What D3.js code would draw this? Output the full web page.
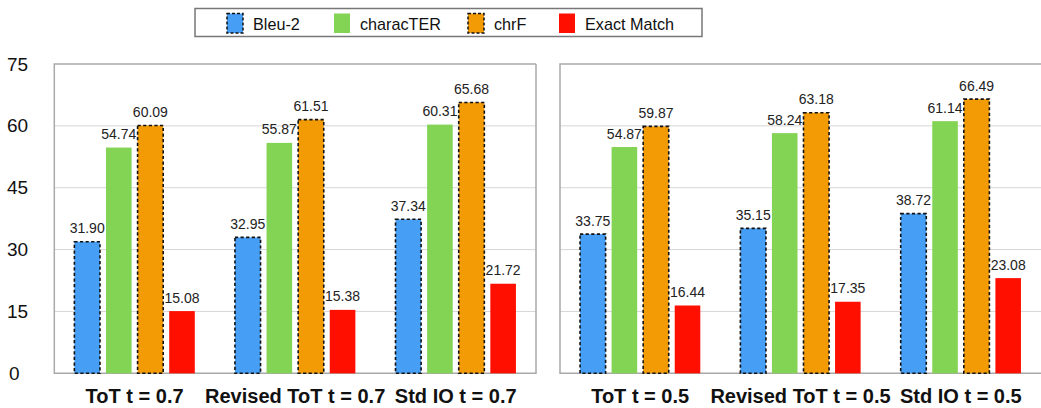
<!DOCTYPE html>
<html>
<head>
<meta charset="utf-8">
<script src="https://cdn.jsdelivr.net/npm/d3@7"></script>
<style>
  body { margin: 0; background: #fff; }
  svg { display: block; font-family: "Liberation Sans", Arial, sans-serif; }
</style>
</head>
<body>
<svg id="chart" width="1041" height="408"></svg>
<script>
// series and their look
var series = ['Bleu-2', 'characTER', 'chrF', 'Exact Match'];
var colors = ['#469ef5', '#83d455', '#f29b05', '#ff0f00'];
var dashed = [true, false, true, false];

// two panels, three settings each
var groupsLeft = ['ToT t = 0.7', 'Revised ToT t = 0.7', 'Std IO t = 0.7'];
var groupsRight = ['ToT t = 0.5', 'Revised ToT t = 0.5', 'Std IO t = 0.5'];

var bleu2Left = [31.90, 32.95, 37.34];
var characterLeft = [54.74, 55.87, 60.31];
var chrfLeft = [60.09, 61.51, 65.68];
var exactLeft = [15.08, 15.38, 21.72];

var bleu2Right = [33.75, 35.15, 38.72];
var characterRight = [54.87, 58.24, 61.14];
var chrfRight = [59.87, 63.18, 66.49];
var exactRight = [16.44, 17.35, 23.08];

var yTicks = [0, 15, 30, 45, 60, 75];

var svg = d3.select('#chart');

var plotTop = 64, plotBottom = 373.3;
var y = d3.scaleLinear().domain([0, 75]).range([plotBottom, plotTop]);

var panels = [
	{ x: 54.3, w: 481.7, groups: groupsLeft, values: [bleu2Left, characterLeft, chrfLeft, exactLeft], rightBorder: true },
	{ x: 560, w: 481, groups: groupsRight, values: [bleu2Right, characterRight, chrfRight, exactRight], rightBorder: false }
];

// y tick labels, only on the left
svg.append('g').selectAll('text').data(yTicks)
	.enter().append('text')
		.attr('x', function(d) { return d === 0 ? 9 : 7; })
		.attr('y', function(d) { return y(d) + 6.5; })
		.attr('font-size', 19)
		.attr('fill', '#111')
		.text(function(d) { return d; });

panels.forEach(function(p) {
	var g = svg.append('g').attr('transform', 'translate(' + p.x + ',0)');

	// gridlines
	g.append('g').selectAll('line').data(yTicks.filter(function(d) { return d > 0 && d < 75; }))
		.enter().append('line')
			.attr('x1', 0).attr('x2', p.w)
			.attr('y1', function(d) { return y(d); })
			.attr('y2', function(d) { return y(d); })
			.attr('stroke', '#d6d6d6').attr('stroke-width', 1);

	// frame
	var frame = 'M' + p.w + ',' + plotTop + 'H0V' + plotBottom + 'H' + p.w;
	if (p.rightBorder) frame += 'V' + plotTop;
	g.append('path').attr('d', frame)
		.attr('fill', 'none').attr('stroke', '#a9a9a9').attr('stroke-width', 1.5);

	var x0 = d3.scaleBand().domain(p.groups).range([0, p.w])
		.paddingInner(0.25).paddingOuter(0.125);
	var x1 = d3.scaleBand().domain(series).range([0, x0.bandwidth()])
		.paddingInner(0.19).paddingOuter(0);

	var rows = [];
	p.groups.forEach(function(grp, gi) {
		series.forEach(function(s, si) {
			rows.push({ group: grp, s: s, si: si, v: p.values[si][gi] });
		});
	});

	var bars = g.append('g').selectAll('g').data(rows).enter().append('g')
		.attr('transform', function(d) { return 'translate(' + (x0(d.group) + x1(d.s)) + ',0)'; });

	bars.append('rect')
		.attr('x', 0)
		.attr('y', function(d) { return y(d.v); })
		.attr('width', x1.bandwidth())
		.attr('height', function(d) { return y(0) - y(d.v); })
		.attr('fill', function(d) { return colors[d.si]; })
		.attr('stroke', function(d) { return dashed[d.si] ? '#111' : 'none'; })
		.attr('stroke-width', 1.6)
		.attr('stroke-dasharray', '3.2,2.4');

	bars.append('text')
		.attr('x', x1.bandwidth() / 2)
		.attr('y', function(d) { return y(d.v) - 8.5; })
		.attr('text-anchor', 'middle')
		.attr('font-size', 14)
		.attr('fill', '#222')
		.text(function(d) { return d.v.toFixed(2); });

	// category labels
	g.append('g').selectAll('text').data(p.groups)
		.enter().append('text')
			.attr('x', function(d) { return x0(d) + x0.bandwidth() / 2; })
			.attr('y', 403)
			.attr('text-anchor', 'middle')
			.attr('font-size', 20)
			.attr('font-weight', 'bold')
			.attr('fill', '#111')
			.text(function(d) { return d; });
});

// legend
var legend = svg.append('g');
legend.append('rect')
	.attr('x', 195).attr('y', 8.5).attr('width', 507).attr('height', 28)
	.attr('fill', '#fff').attr('stroke', '#777').attr('stroke-width', 1.5);

var legendX = [227, 334, 468, 559];
var items = legend.selectAll('g.item').data(series).enter().append('g')
	.attr('transform', function(d, i) { return 'translate(' + legendX[i] + ',13.5)'; });

items.append('rect')
	.attr('width', 16).attr('height', 19.5)
	.attr('fill', function(d, i) { return colors[i]; })
	.attr('stroke', function(d, i) { return dashed[i] ? '#111' : 'none'; })
	.attr('stroke-width', 1.5)
	.attr('stroke-dasharray', '3,2');

items.append('text')
	.attr('x', 26).attr('y', 16)
	.attr('font-size', 16.2)
	.attr('fill', '#111')
	.text(function(d) { return d; });
</script>
</body>
</html>
